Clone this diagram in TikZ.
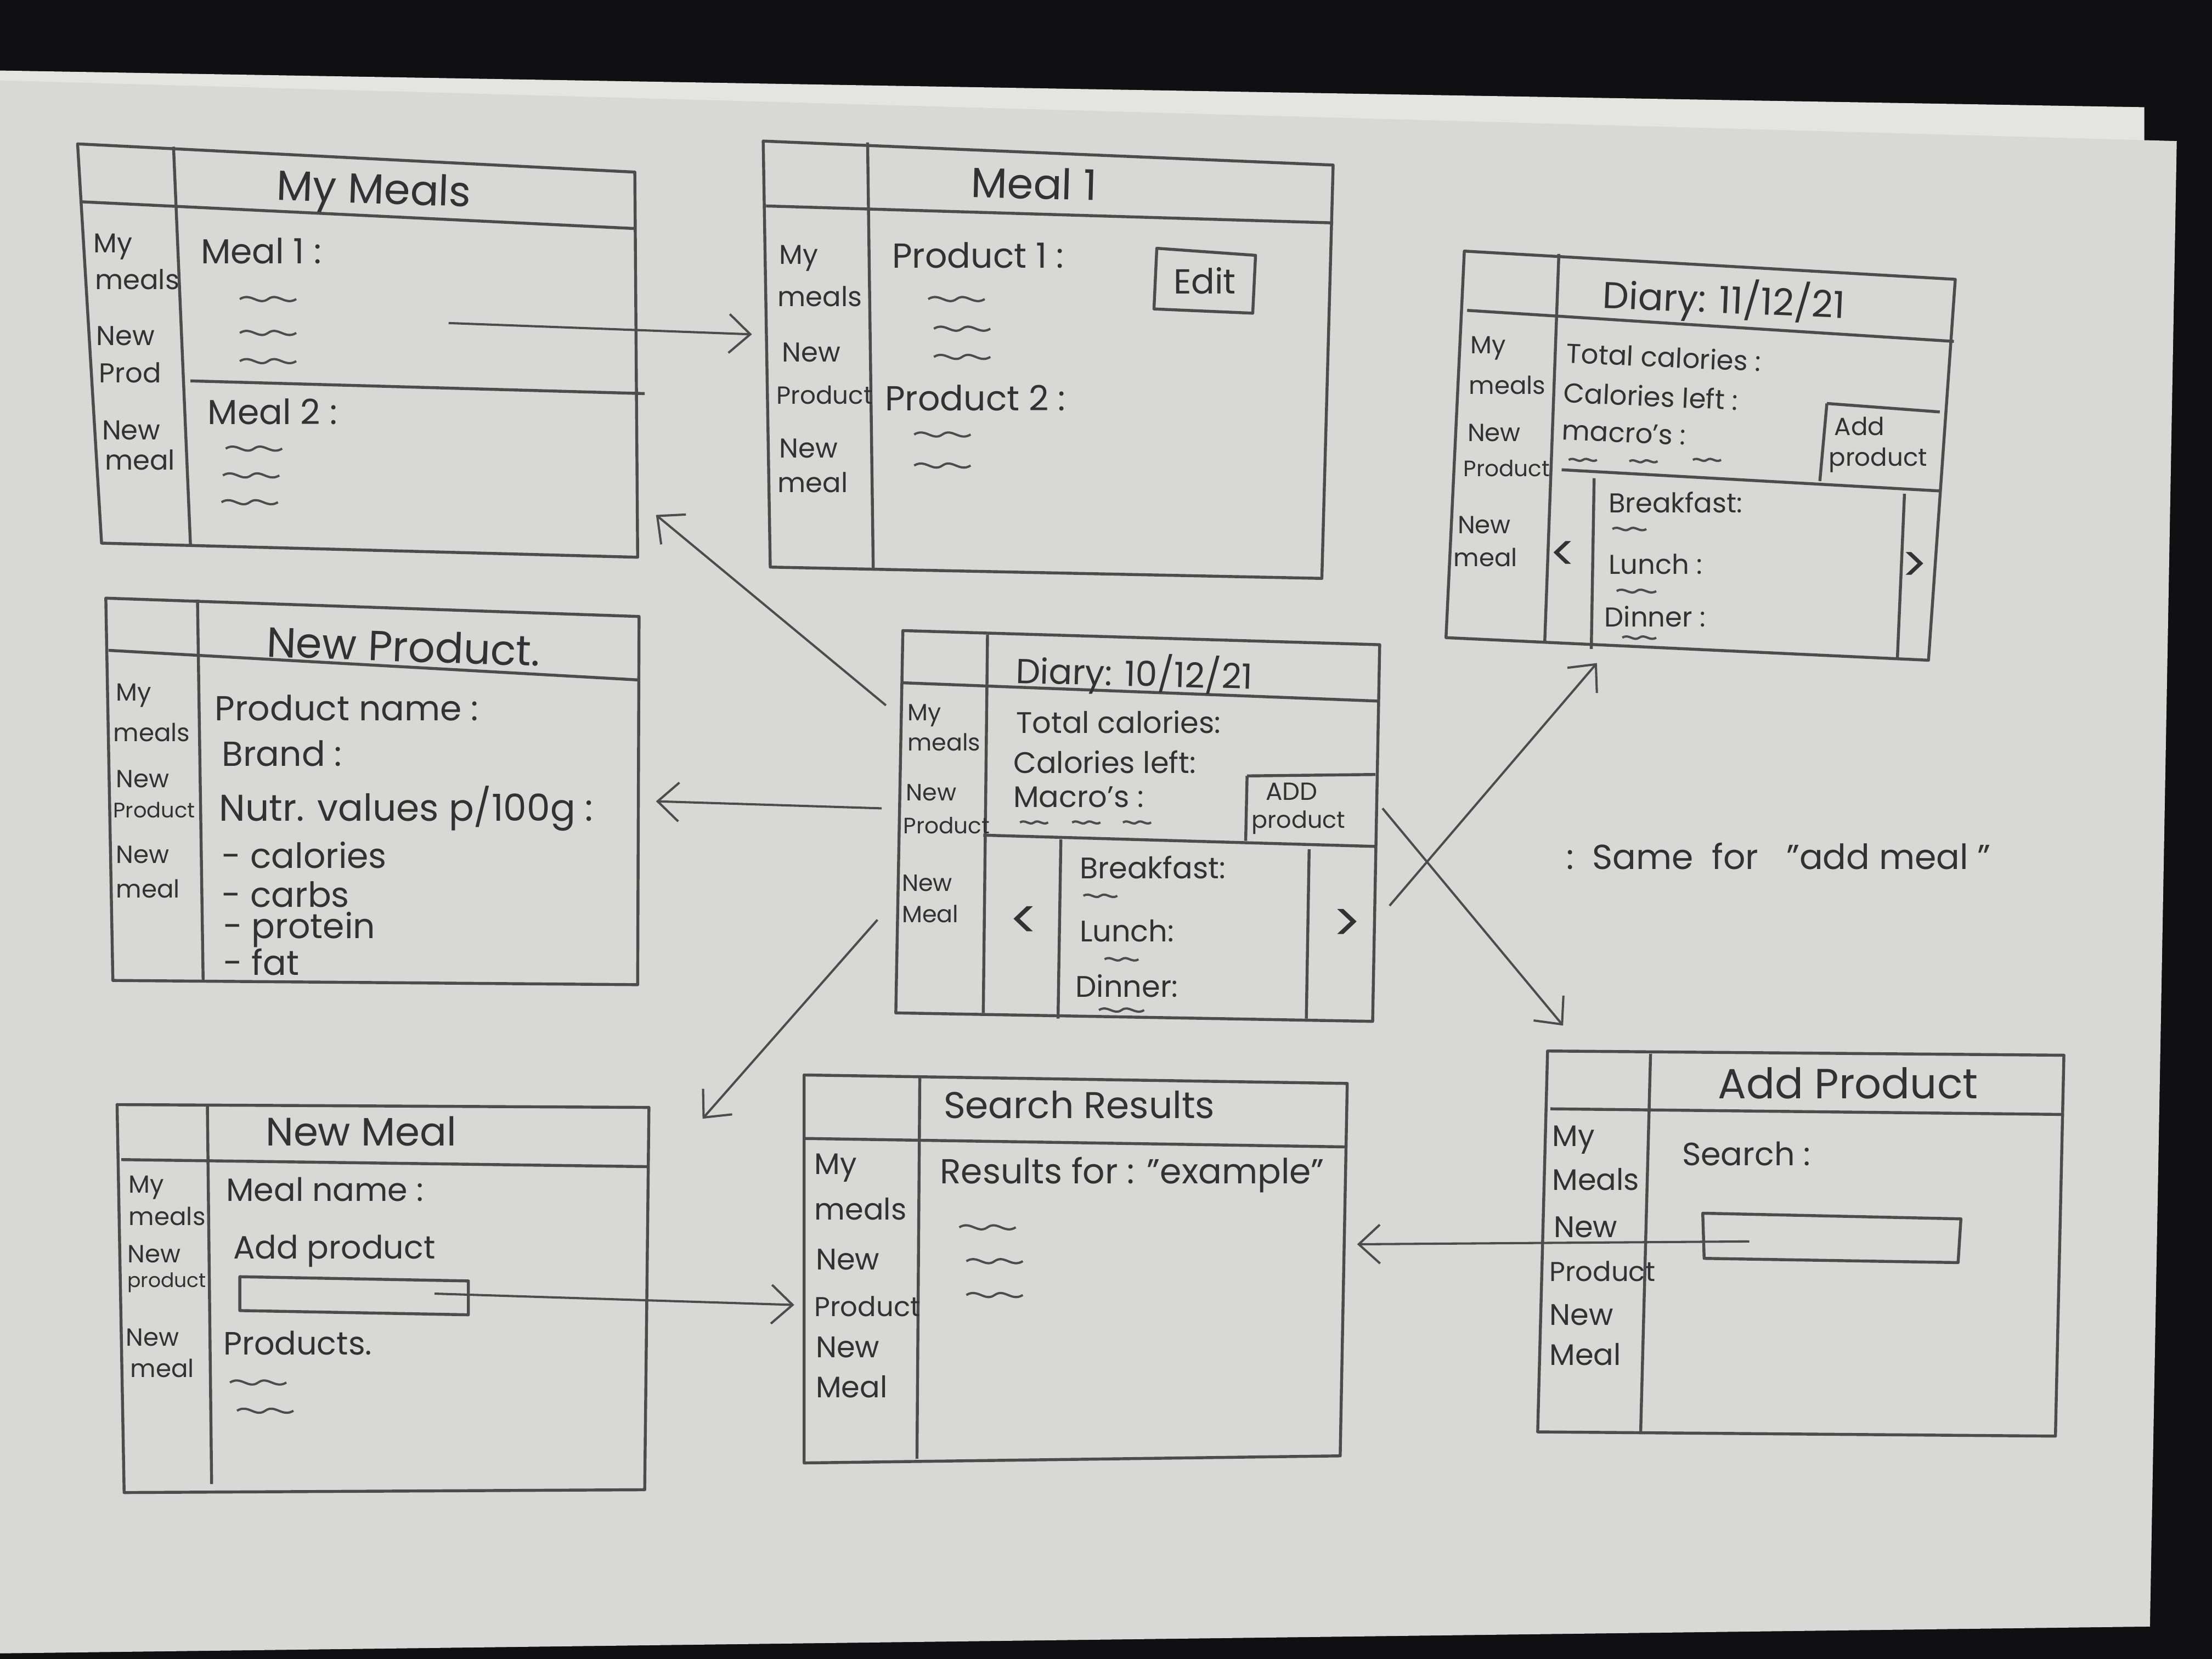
\documentclass[tikz,border=0pt]{standalone}
\usepackage{fontspec}
\setmainfont{Poppins}
\usetikzlibrary{arrows.meta}

\definecolor{pencil}{RGB}{76,76,78}
\definecolor{lead}{RGB}{50,50,52}
\definecolor{paper}{RGB}{216,216,214}
\definecolor{sheet}{RGB}{228,228,225}
\definecolor{desk}{RGB}{16,16,18}

\tikzset{
    frame/.style={draw=pencil, line width=1.2pt, line join=round},
    ttl/.style={text=lead, font=\fontsize{#1}{#1}\selectfont},
    ttl/.default=16,
    txt/.style={text=lead, anchor=west, inner sep=0pt, font=\fontsize{#1}{#1}\selectfont},
    txt/.default=12,
    side/.style={text=lead, anchor=west, inner sep=0pt, font=\fontsize{#1}{#1}\selectfont},
    side/.default=11,
    flow/.style={draw=pencil, line width=0.9pt, -{Straight Barb[length=3mm,width=5.5mm]}},
    squig/.pic={\draw[pencil, line width=0.9pt] (-20,0) .. controls (-12,-5) and (-7,5) .. (0,0) .. controls (7,-5) and (12,5) .. (20,0);}
}

\begin{document}
\begin{tikzpicture}[x=0.02cm, y=-0.02cm]
        \useasboundingbox (0,0) rectangle (1568,1176);
        \fill[desk] (0,0) rectangle (1568,1176);

        % paper
        \fill[sheet] (0,50) -- (1520,76) -- (1520,120) -- (0,120) -- cycle;
        \fill[paper] (0,57) -- (1543,100) -- (1524,1153) -- (0,1172) -- cycle;

        % My Meals
        \draw[frame] (55,102) -- (450,122) -- (452,395) -- (72,385) -- cycle;
        \draw[frame] (57,143) -- (450,162);
        \draw[frame] (123,104) -- (135,386);
        \draw[frame] (135,270) -- (457,279);
        \node[ttl=17, rotate=-2] (mm-title) at (265,137) {My Meals};
        \node[side] (mm-s1) at (66,175) {My};
        \node[side] (mm-s2) at (67,198) {meals};
        \node[side] (mm-s3) at (68,238) {New};
        \node[side] (mm-s4) at (70,264) {Prod};
        \node[side] (mm-s5) at (72,305) {New};
        \node[side] (mm-s6) at (74,326) {meal};
        \node[txt=14] (mm-meal1) at (142,178) {Meal 1 :};
        \node[txt=14] (mm-meal2) at (147,292) {Meal 2 :};
        \pic at (190,212) {squig};
        \pic at (190,236) {squig};
        \pic at (190,256) {squig};
        \pic at (180,318) {squig};
        \pic at (178,337) {squig};
        \pic at (177,356) {squig};
        \coordinate (mm-out) at (318,229);
        \coordinate (mm-in) at (465,365);

        % Meal 1
        \draw[frame] (541,100) -- (945,117) -- (937,410) -- (546,402) -- cycle;
        \draw[frame] (543,146) -- (945,158);
        \draw[frame] (615,101) -- (619,403);
        \draw[frame] (820,176) -- (890,181) -- (888,222) -- (818,219) -- cycle;
        \node[ttl=17, rotate=-1.5] (m1-title) at (733,130) {Meal 1};
        \node[side] (m1-s1) at (552,183) {My};
        \node[side] (m1-s2) at (551,210) {meals};
        \node[side] (m1-s3) at (554,250) {New};
        \node[side=10] (m1-s4) at (550,280) {Product};
        \node[side] (m1-s5) at (552,318) {New};
        \node[side] (m1-s6) at (551,342) {meal};
        \node[txt=14] (m1-prod1) at (632,181) {Product 1 :};
        \node[txt=14] (m1-prod2) at (627,282) {Product 2 :};
        \node[ttl=14] (m1-edit) at (854,199) {Edit};
        \pic at (678,212) {squig};
        \pic at (682,233) {squig};
        \pic at (682,253) {squig};
        \pic at (668,308) {squig};
        \pic at (668,330) {squig};
        \coordinate (m1-in) at (533,237);

        % Diary 11/12/21
        \draw[frame] (1038,178) -- (1386,198) -- (1367,468) -- (1025,452) -- cycle;
        \draw[frame] (1040,220) -- (1385,242);
        \draw[frame] (1105,180) -- (1095,455);
        \draw[frame] (1107,333) -- (1375,348);
        \draw[frame] (1295,286) -- (1375,292);
        \draw[frame] (1295,286) -- (1290,341);
        \draw[frame] (1130,339) -- (1128,460);
        \draw[frame] (1350,350) -- (1345,466);
        \begin{scope}[every node/.append style={rotate=-2.5}]
        \node[ttl=15] (d11-title) at (1222,213) {Diary: 11/12/21};
        \node[txt=11] (d11-total) at (1110,250) {Total calories :};
        \node[txt=11] (d11-left) at (1108,278) {Calories left :};
        \node[txt=11] (d11-macro) at (1107,305) {macro's :};
        \end{scope}
        \node[side=10] (d11-s1) at (1042,247) {My};
        \node[side=10] (d11-s2) at (1041,273) {meals};
        \node[side=10] (d11-s3) at (1040,307) {New};
        \node[side=9] (d11-s4) at (1037,332) {Product};
        \node[side=10] (d11-s5) at (1033,372) {New};
        \node[side=10] (d11-s6) at (1030,395) {meal};
        \node[side=10] (d11-add1) at (1300,302) {Add};
        \node[side=10] (d11-add2) at (1296,326) {product};
        \node[ttl=20] (d11-prev) at (1108,394) {<};
        \node[ttl=20] (d11-next) at (1357,402) {>};
        \node[txt=11] (d11-bf) at (1140,356) {Breakfast:};
        \node[txt=11] (d11-lu) at (1140,400) {Lunch :};
        \node[txt=11] (d11-di) at (1137,437) {Dinner :};
        \pic[scale=0.5] at (1122,326) {squig};
        \pic[scale=0.5] at (1165,327) {squig};
        \pic[scale=0.5] at (1210,326) {squig};
        \pic[scale=0.6] at (1155,375) {squig};
        \pic[scale=0.7] at (1160,419) {squig};
        \pic[scale=0.6] at (1162,452) {squig};
        \coordinate (d11-in) at (1132,470);

        % New Product
        \draw[frame] (75,424) -- (453,437) -- (452,698) -- (80,695) -- cycle;
        \draw[frame] (77,461) -- (453,482);
        \draw[frame] (140,425) -- (144,695);
        \node[ttl=17, rotate=-2] (np-title) at (286,458) {New Product.};
        \node[side=10] (np-s1) at (82,493) {My};
        \node[side=10] (np-s2) at (80,519) {meals};
        \node[side=10] (np-s3) at (82,552) {New};
        \node[side=8.5] (np-s4) at (80,574) {Product};
        \node[side=10] (np-s5) at (82,606) {New};
        \node[side=10] (np-s6) at (82,630) {meal};
        \node[txt=14] (np-name) at (152,502) {Product name :};
        \node[txt=14] (np-brand) at (157,534) {Brand :};
        \node[txt=15] (np-nutr) at (155,573) {Nutr. values p/100g :};
        \node[txt=14] (np-cal) at (157,606) {- calories};
        \node[txt=14] (np-carb) at (157,634) {- carbs};
        \node[txt=14] (np-prot) at (158,659) {- protein};
        \node[txt=14] (np-fat) at (158,682) {- fat};
        \coordinate (np-in) at (465,568);

        % Diary 10/12/21
        \draw[frame] (640,447) -- (978,457) -- (973,724) -- (635,718) -- cycle;
        \draw[frame] (640,484) -- (978,497);
        \draw[frame] (700,450) -- (697,718);
        \draw[frame] (697,592) -- (975,600);
        \draw[frame] (884,550) -- (975,549);
        \draw[frame] (884,550) -- (883,596);
        \draw[frame] (752,595) -- (750,722);
        \draw[frame] (928,602) -- (926,722);
        \node[ttl=14, rotate=-1.5] (d10-title) at (804,478) {Diary: 10/12/21};
        \node[side=9.5] (d10-s1) at (643,507) {My};
        \node[side=9.5] (d10-s2) at (643,526) {meals};
        \node[side=9.5] (d10-s3) at (642,562) {New};
        \node[side=9] (d10-s4) at (640,585) {Product};
        \node[side=9.5] (d10-s5) at (639,626) {New};
        \node[side=9.5] (d10-s6) at (639,648) {Meal};
        \node[txt=12] (d10-total) at (720,512) {Total calories:};
        \node[txt=12] (d10-left) at (718,540) {Calories left:};
        \node[txt=12] (d10-macro) at (718,565) {Macro's :};
        \node[side=10] (d10-add1) at (897,561) {ADD};
        \node[side=9.5] (d10-add2) at (887,583) {product};
        \node[ttl=22] (d10-prev) at (726,654) {<};
        \node[ttl=22] (d10-next) at (955,656) {>};
        \node[txt=12] (d10-bf) at (765,615) {Breakfast:};
        \node[txt=12] (d10-lu) at (765,660) {Lunch:};
        \node[txt=12] (d10-di) at (762,699) {Dinner:};
        \pic[scale=0.5] at (733,583) {squig};
        \pic[scale=0.5] at (770,583) {squig};
        \pic[scale=0.5] at (806,583) {squig};
        \pic[scale=0.6] at (780,635) {squig};
        \pic[scale=0.6] at (795,680) {squig};
        \pic[scale=0.8] at (795,716) {squig};
        \coordinate (d10-mm) at (628,500);
        \coordinate (d10-np) at (625,573);
        \coordinate (d10-nm) at (622,652);
        \coordinate (d10-d11) at (985,642);
        \coordinate (d10-ap) at (980,573);

        % New Meal
        \draw[frame] (83,783) -- (460,785) -- (457,1056) -- (88,1058) -- cycle;
        \draw[frame] (86,822) -- (460,827);
        \draw[frame] (147,783) -- (150,1052);
        \draw[frame] (170,905) -- (332,908) -- (332,932) -- (170,929) -- cycle;
        \node[ttl=16] (nm-title) at (256,802) {New Meal};
        \node[side=10] (nm-s1) at (91,842) {My};
        \node[side=10] (nm-s2) at (91,862) {meals};
        \node[side=10] (nm-s3) at (90,889) {New};
        \node[side=8] (nm-s4) at (90,909) {product};
        \node[side=10] (nm-s5) at (89,948) {New};
        \node[side=10] (nm-s6) at (92,970) {meal};
        \node[txt=13] (nm-name) at (160,843) {Meal name :};
        \node[txt=13] (nm-add) at (165,887) {Add product};
        \node[txt=13] (nm-prods) at (158,952) {Products.};
        \pic at (183,980) {squig};
        \pic at (188,1000) {squig};
        \coordinate (nm-out) at (308,917);
        \coordinate (nm-in) at (498,793);

        % Search Results
        \draw[frame] (570,762) -- (955,768) -- (950,1032) -- (570,1037) -- cycle;
        \draw[frame] (570,807) -- (955,813);
        \draw[frame] (652,764) -- (650,1034);
        \node[ttl=15] (sr-title) at (765,783) {Search Results};
        \node[side=12] (sr-s1) at (577,828) {My};
        \node[side=12] (sr-s2) at (577,857) {meals};
        \node[side=12] (sr-s3) at (578,893) {New};
        \node[side=11] (sr-s4) at (577,926) {Product};
        \node[side=12] (sr-s5) at (578,955) {New};
        \node[side=12] (sr-s6) at (578,983) {Meal};
        \node[txt=14] (sr-res) at (666,833) {Results for : \symbol{34}example\symbol{34}};
        \pic at (700,870) {squig};
        \pic at (705,894) {squig};
        \pic at (705,918) {squig};
        \coordinate (sr-l) at (563,925);
        \coordinate (sr-r) at (962,882);

        % Add Product
        \draw[frame] (1097,745) -- (1463,748) -- (1457,1018) -- (1090,1015) -- cycle;
        \draw[frame] (1099,786) -- (1463,790);
        \draw[frame] (1170,747) -- (1163,1015);
        \draw[frame] (1207,860) -- (1390,864) -- (1388,895) -- (1208,892) -- cycle;
        \node[ttl=17] (ap-title) at (1310,768) {Add Product};
        \node[side=12] (ap-s1) at (1100,808) {My};
        \node[side=12] (ap-s2) at (1100,836) {Meals};
        \node[side=12] (ap-s3) at (1101,870) {New};
        \node[side=11] (ap-s4) at (1098,901) {Product};
        \node[side=12] (ap-s5) at (1098,932) {New};
        \node[side=12] (ap-s6) at (1098,960) {Meal};
        \node[txt=13] (ap-search) at (1192,818) {Search :};
        \coordinate (ap-out) at (1240,880);
        \coordinate (ap-in) at (1108,727);

        \node[txt=14] (note) at (1110,607) {:\ \ Same\ \ for\ \ \ \symbol{34}add meal\ \symbol{34}};

        % flow between screens
        \draw[flow] (mm-out) -- (m1-in);
        \draw[flow] (d10-mm) -- (mm-in);
        \draw[flow] (d10-np) -- (np-in);
        \draw[flow] (d10-nm) -- (nm-in);
        \draw[flow] (d10-d11) -- (d11-in);
        \draw[flow] (d10-ap) -- (ap-in);
        \draw[flow] (nm-out) -- (sr-l);
        \draw[flow] (ap-out) -- (sr-r);
\end{tikzpicture}
\end{document}
